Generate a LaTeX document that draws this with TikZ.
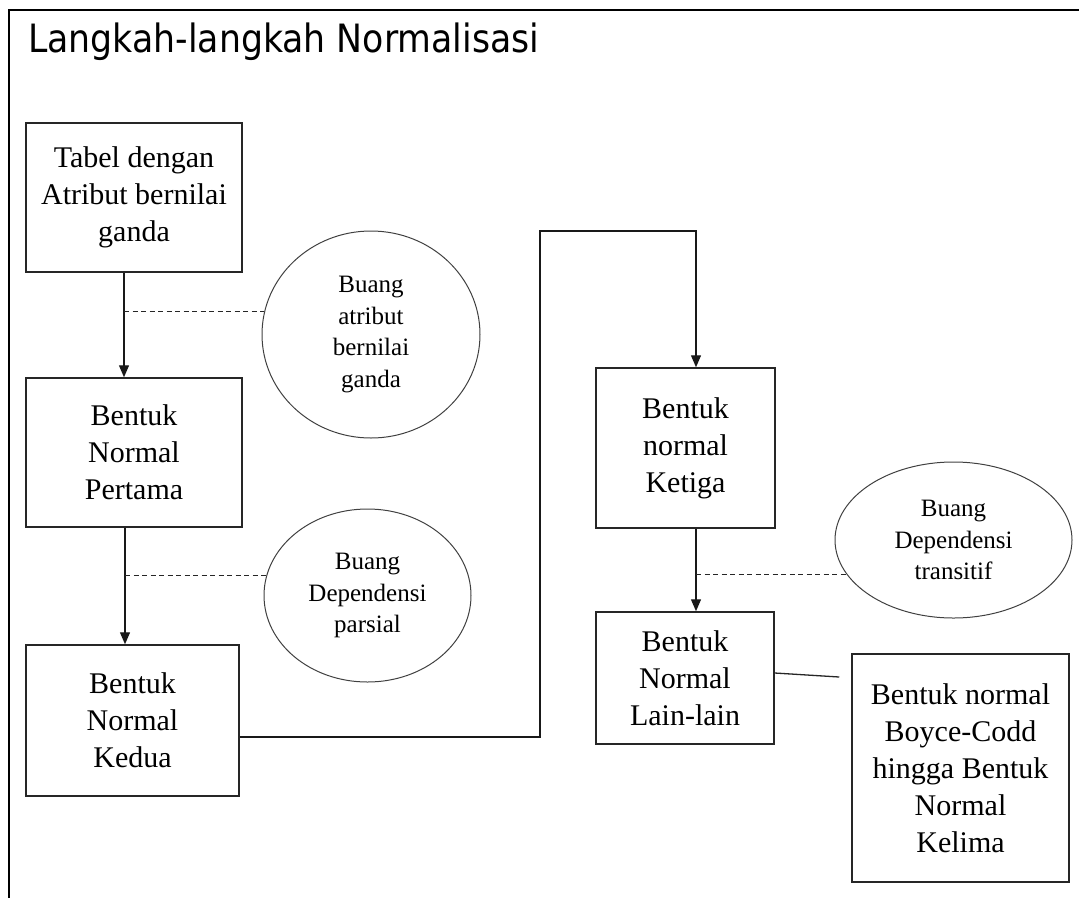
\documentclass[tikz,border=0pt]{standalone}
\usepackage{fontspec}
\setmainfont{Liberation Serif}
\newfontfamily\judulfont{DejaVu Sans}
\usetikzlibrary{arrows.meta,shapes.geometric}
\begin{document}
\begin{tikzpicture}[x=1pt,y=-1pt,>={Triangle[width=10pt,length=12pt]},
	kotak/.style={draw=black!85,line width=1.5pt,align=center,inner sep=0pt,font=\fontsize{30}{37}\selectfont},
	bulat/.style={ellipse,draw=black!75,line width=1pt,align=center,inner sep=0pt,font=\fontsize{25}{31.5}\selectfont},
	putus/.style={draw=black!85,line width=1.2pt,dash pattern=on 5pt off 3.5pt},
	panah/.style={->,draw=black!90,line width=1.3pt}]
			\useasboundingbox (0,0) rectangle (1079,898);
			\draw[line width=2.5pt] (1079,10) -- (9,10) -- (9,898);
			\node[anchor=base west,inner sep=0pt,font=\judulfont\fontsize{39}{44}\selectfont] (judul) at (28,52) {\scalebox{0.89}[1]{Langkah-langkah Normalisasi}};
			\node[kotak,minimum width=216pt,minimum height=149pt] (tabel) at (134,197.5) {Tabel dengan\\Atribut bernilai\\ganda};
			\node[kotak,minimum width=216pt,minimum height=149pt] (bnf1) at (134,452.5) {Bentuk\\Normal\\Pertama};
			\node[kotak,minimum width=213pt,minimum height=151pt] (bnf2) at (132.5,720.5) {Bentuk\\Normal\\Kedua};
			\node[kotak,minimum width=179pt,minimum height=160pt] (bnf3) at (685.5,448) {Bentuk\\normal\\Ketiga};
			\node[kotak,minimum width=178pt,minimum height=132pt] (lain) at (685,678) {Bentuk\\Normal\\Lain-lain};
			\node[kotak,minimum width=217pt,minimum height=228pt] (bcnf) at (960.5,768) {Bentuk normal\\Boyce-Codd\\hingga Bentuk\\Normal\\Kelima};
			\node[bulat,minimum width=218pt,minimum height=207pt] (buang1) at (371,334.5) {Buang\\atribut\\bernilai\\ganda};
			\node[bulat,minimum width=207pt,minimum height=173pt] (buang2) at (367.5,595.5) {Buang\\Dependensi\\parsial};
			\node[bulat,minimum width=237pt,minimum height=156pt] (buang3) at (953.5,540) {Buang\\Dependensi\\transitif};
			% alur utama
			\coordinate (a1) at ([xshift=-10pt]tabel.south);
			\coordinate (a2) at ([xshift=-9pt]bnf1.south);
			\coordinate (a3) at ([xshift=10.5pt]bnf3.south);
			\coordinate (belok) at (540,231);
			\draw[panah] (a1) -- (a1 |- bnf1.north);
			\draw[panah] (a2) -- (a2 |- bnf2.north);
			\draw[panah] ([yshift=-16.5pt]bnf2.east) -| (belok) -| ([xshift=10.5pt]bnf3.north);
			\draw[panah] (a3) -- (a3 |- lain.north);
			\draw[draw=black!85,line width=1.3pt] ([yshift=5pt]lain.east) -- ([xshift=-12pt,yshift=91pt]bcnf.west);
			% garis putus ke elips
			\draw[putus] (a1 |- buang1.168) -- (buang1.168);
			\draw[putus] (a2 |- buang2.169) -- (buang2.169);
			\draw[putus] (a3 |- buang3.198) -- (buang3.198);
\end{tikzpicture}
\end{document}
